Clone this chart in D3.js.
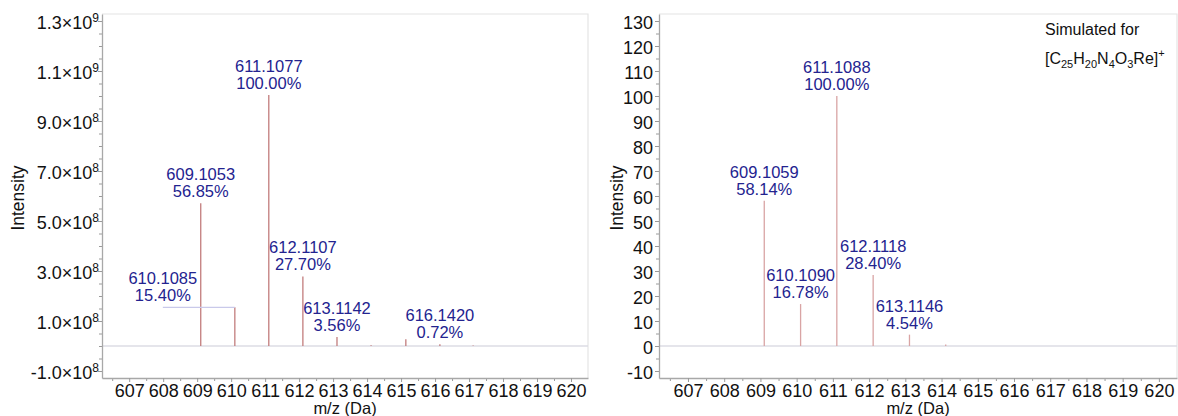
<!DOCTYPE html>
<html>
<head>
<meta charset="utf-8">
<script src="https://cdn.jsdelivr.net/npm/d3@7"></script>
<style>
  body { margin: 0; background: #fff; }
  svg { display: block; font-family: "Liberation Sans", Arial, Helvetica, sans-serif; }
</style>
</head>
<body>
<svg id="chart" width="1178" height="416"></svg>
<script>
// m/z axis ticks shared by both spectra
const mzTicks = [607, 608, 609, 610, 611, 612, 613, 614, 615, 616, 617, 618, 619, 620];

// Measured spectrum: peak m/z and relative abundance (% of base peak)
const measMz      = [609.1053, 610.1085, 611.1077, 612.1107, 613.1142, 614.1170, 615.1400, 616.1420, 617.1200];
const measPct     = [56.85, 15.40, 100.00, 27.70, 3.56, 0.30, 2.70, 0.72, 0.20];
const measLabeled = [true, true, true, true, true, false, false, true, false];
const measBase    = 1.004e9;   // absolute intensity of the base peak
const measYTicks  = [-1e8, 1e8, 3e8, 5e8, 7e8, 9e8, 1.1e9, 1.3e9];

// Simulated isotope pattern for [C25H20N4O3Re]+
const simMz      = [609.1059, 610.1090, 611.1088, 612.1118, 613.1146, 614.1150];
const simPct     = [58.14, 16.78, 100.00, 28.40, 4.54, 0.60];
const simLabeled = [true, true, true, true, true, false];
const simYTicks  = [-10, 0, 10, 20, 30, 40, 50, 60, 70, 80, 90, 100, 110, 120, 130];

const svg = d3.select("#chart");
const TOP = 14, BOTTOM = 378;
const LABEL_COLOR = "#23238f";
const TICK_FONT = 18;

function sciParts(v) {
  const e = Math.floor(Math.log10(Math.abs(v)));
  const m = (v / Math.pow(10, e)).toFixed(1);
  return { m: m, e: e };
}

function drawPanel(cfg) {
  const g = svg.append("g");
  const x = d3.scaleLinear().domain([606.2, 620.5]).range([cfg.x0, cfg.x1]);
  const y = d3.scaleLinear().domain(cfg.yDomain).range([BOTTOM, TOP]);

  // light plot frame
  g.append("path")
    .attr("d", `M${cfg.x0},${TOP}H${cfg.x1}V${BOTTOM}`)
    .attr("fill", "none").attr("stroke", "#e4e4e4").attr("stroke-width", 1.2);

  // zero baseline
  g.append("line")
    .attr("x1", cfg.x0).attr("x2", cfg.x1)
    .attr("y1", y(0)).attr("y2", y(0))
    .attr("stroke", "#dcdce4").attr("stroke-width", 1.3);

  // x axis: minor ticks at half units, major ticks with labels
  const halfTicks = mzTicks.map(d => d - 0.5).filter(d => d > 606.2);
  g.append("g").attr("transform", `translate(0,${BOTTOM})`)
    .call(d3.axisBottom(x).tickValues(halfTicks).tickSize(3).tickFormat(""))
    .call(a => a.select(".domain").remove())
    .call(a => a.selectAll("line").attr("stroke", "#9a9a9a"));
  const xa = g.append("g").attr("transform", `translate(0,${BOTTOM})`)
    .call(d3.axisBottom(x).tickValues(mzTicks).tickSize(4).tickSizeOuter(0).tickPadding(2).tickFormat(d3.format("d")));
  xa.select(".domain").attr("stroke", "#a8a8a8").attr("stroke-width", 1.3);
  xa.selectAll("line").attr("stroke", "#9a9a9a");
  xa.selectAll("text").attr("font-size", TICK_FONT).attr("fill", "#111")
    .attr("font-family", "Liberation Sans, Arial, sans-serif");

  // y axis: minor ticks then labelled ticks
  g.append("g").attr("transform", `translate(${cfg.x0},0)`)
    .call(d3.axisLeft(y).tickValues(cfg.minorTicks).tickSize(3).tickFormat(""))
    .call(a => a.select(".domain").remove())
    .call(a => a.selectAll("line").attr("stroke", "#9a9a9a"));
  const ya = g.append("g").attr("transform", `translate(${cfg.x0},0)`)
    .call(d3.axisLeft(y).tickValues(cfg.yTicks).tickSize(4).tickSizeOuter(0).tickFormat(""));
  ya.select(".domain").attr("stroke", "#a8a8a8").attr("stroke-width", 1.3);
  ya.selectAll("line").attr("stroke", "#9a9a9a");
  ya.selectAll(".tick").each(function(d) {
    const t = d3.select(this).append("text")
      .attr("x", cfg.labelEnd).attr("y", 7)
      .attr("text-anchor", "end").attr("fill", "#111").attr("font-size", TICK_FONT)
      .attr("font-family", "Liberation Sans, Arial, sans-serif");
    if (cfg.sci) {
      const p = sciParts(d);
      t.append("tspan").text(`${p.m}\u00d710`);
      t.append("tspan").attr("font-size", 12).attr("dy", -7).text(p.e);
    } else {
      t.text(d);
    }
  });

  // axis titles
  g.append("text")
    .attr("transform", `translate(${cfg.titleX},198) rotate(-90)`)
    .attr("text-anchor", "middle").attr("dy", "0.35em")
    .attr("font-size", 17.5).attr("fill", "#111").text("Intensity");
  g.append("text")
    .attr("x", (cfg.x0 + cfg.x1) / 2).attr("y", 414)
    .attr("text-anchor", "middle")
    .attr("font-size", 16.5).attr("fill", "#111").text("m/z (Da)");

  // peaks
  const peaks = cfg.mz.map((m, i) => ({ mz: m, pct: cfg.pct[i], val: cfg.toValue(cfg.pct[i]), lab: cfg.labeled[i] }));
  g.selectAll(".peak").data(peaks).enter().append("line")
    .attr("class", "peak")
    .attr("x1", d => x(d.mz)).attr("x2", d => x(d.mz))
    .attr("y1", y(0)).attr("y2", d => y(d.val))
    .attr("stroke", cfg.peakColor).attr("stroke-width", 1.3);

  // peak annotations
  peaks.filter(d => d.lab).forEach(d => {
    const shift = cfg.labelShift[d.mz.toFixed(4)] || 0;
    const cx = x(d.mz) + shift;
    const top = y(d.val);
    if (shift !== 0) {
      g.append("line")
        .attr("x1", cx).attr("x2", x(d.mz))
        .attr("y1", top).attr("y2", top)
        .attr("stroke", "#c9c9ea").attr("stroke-width", 1.3);
    }
    const t = g.append("text").attr("text-anchor", "middle")
      .attr("fill", LABEL_COLOR).attr("font-size", 16.5);
    t.append("tspan").attr("x", cx).attr("y", top - 23).text(d.mz.toFixed(4));
    t.append("tspan").attr("x", cx).attr("y", top - 6).text(d.pct.toFixed(2) + "%");
  });
  return g;
}

const measMinor = d3.range(-1e8, 1.3e9 + 1, 5e7);
drawPanel({
  x0: 102, x1: 588,
  yDomain: [-1.28e8, 1.328e9],
  yTicks: measYTicks, minorTicks: measMinor,
  sci: true, labelEnd: -3, titleX: 18,
  mz: measMz, pct: measPct, labeled: measLabeled,
  toValue: p => p / 100 * measBase,
  peakColor: "#c27c7c",
  labelShift: { "610.1085": -72 }
});

const simMinor = d3.range(-10, 131, 5);
const right = drawPanel({
  x0: 659, x1: 1177,
  yDomain: [-12.8, 132.8],
  yTicks: simYTicks, minorTicks: simMinor,
  sci: false, labelEnd: -6, titleX: 617,
  mz: simMz, pct: simPct, labeled: simLabeled,
  toValue: p => p,
  peakColor: "#d9a4a4",
  labelShift: {}
});

// caption for the simulated pattern
right.append("text").attr("x", 1045).attr("y", 35)
  .attr("font-size", 16).attr("fill", "#111").text("Simulated for");
const f = right.append("text").attr("x", 1045).attr("y", 64)
  .attr("font-size", 16).attr("fill", "#111");
const formula = [["[C", 0], ["25", 1], ["H", 0], ["20", 1], ["N", 0], ["4", 1], ["O", 0], ["3", 1], ["Re]", 0], ["+", 2]];
let level = 0;
formula.forEach(([s, k]) => {
  const target = k === 1 ? 4 : k === 2 ? -7 : 0;
  f.append("tspan")
    .attr("dy", target - level)
    .attr("font-size", k === 0 ? 16 : 11)
    .text(s);
  level = target;
});
</script>
</body>
</html>
